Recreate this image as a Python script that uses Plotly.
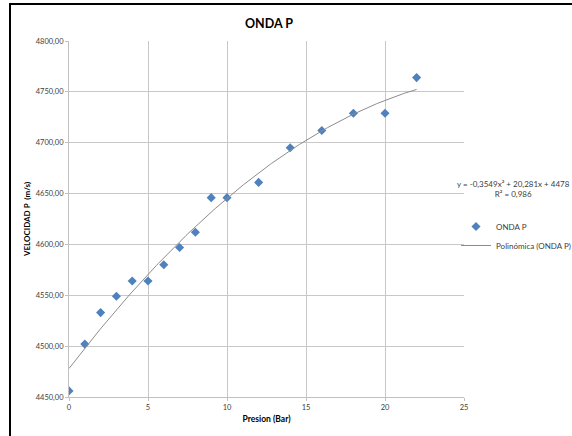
import plotly.graph_objects as go
import numpy as np

# Data
presion = [0, 1, 2, 3, 4, 5, 6, 7, 8, 9, 10, 12, 14, 16, 18, 20, 22]
velocidad = [4456, 4502, 4533, 4549, 4564, 4564, 4580, 4597, 4612, 4646, 4646,
             4661, 4695, 4712, 4729, 4729, 4764]
# Trendline coefficients as shown on the chart (a x^2 + b x + c)
trend_coeffs = [-0.3549, 20.281, 4478]
x_ticks = [0, 5, 10, 15, 20, 25]
y_ticks = [4450, 4500, 4550, 4600, 4650, 4700, 4750, 4800]

FONT = "Lato"
W, H = 572, 436
ml, mr, mt, mb = 69, 108, 41, 39
pw, ph = W - ml - mr, H - mt - mb

def px(x):
    return (x - ml) / pw

def py(y):
    return (H - mb - y) / ph

xs = np.linspace(min(presion), max(presion), 200)
ys = np.polyval(trend_coeffs, xs)

fig = go.Figure()
fig.add_trace(go.Scatter(
    x=presion, y=velocidad, mode="markers", name="ONDA P",
    marker=dict(symbol="diamond", size=7, color="#4F81BD",
                line=dict(width=0)),
))
fig.add_trace(go.Scatter(
    x=xs, y=ys, mode="lines", name="Polinómica (ONDA P)",
    line=dict(color="#8c8c8c", width=1),
))

eq_text = ("y = -0,3549x² + 20,281x + 4478<br>R² = 0,986")

fig.update_layout(
    width=W, height=H,
    margin=dict(l=ml, r=mr, t=mt, b=mb, autoexpand=False),
    paper_bgcolor="white", plot_bgcolor="white",
    separators=",.",
    font=dict(family=FONT, size=8, color="#404040"),
    title=dict(text="<b>ONDA P</b>", x=269 / W, xref="container", xanchor="center",
               y=1 - 24 / H, yref="container", yanchor="middle",
               font=dict(family=FONT, size=12.5, color="#000000")),
    xaxis=dict(range=[0, 25], tickvals=x_ticks, showgrid=True,
               gridcolor="#c8c8c8", gridwidth=1, zeroline=False,
               showline=True, linecolor="#c0c0c0", linewidth=1,
               ticks="outside", ticklen=3, tickcolor="#c0c0c0",
               tickfont=dict(family=FONT, size=7.5, color="#404040"),
               title=dict(text="<b>Presion (Bar)</b>", standoff=5,
                          font=dict(family=FONT, size=8.5, color="#000000"))),
    yaxis=dict(range=[4450, 4800], tickvals=y_ticks, tickformat=".2f",
               showgrid=True, gridcolor="#c8c8c8", gridwidth=1, zeroline=False,
               showline=True, linecolor="#c0c0c0", linewidth=1,
               ticks="outside", ticklen=3, tickcolor="#c0c0c0",
               tickfont=dict(family=FONT, size=7.5, color="#404040"),
               title=dict(text="<b>VELOCIDAD P  (m/s)</b>", standoff=3,
                          font=dict(family=FONT, size=8, color="#000000"))),
    legend=dict(x=456 / W, y=1 - 212 / H, xref="container", yref="container",
                xanchor="left", yanchor="top",
                bgcolor="rgba(0,0,0,0)", borderwidth=0,
                font=dict(family=FONT, size=8, color="#404040"),
                tracegroupgap=4),
    showlegend=True,
)

fig.add_annotation(
    text=eq_text, xref="paper", yref="paper", x=px(513), y=py(189),
    xanchor="center", yanchor="middle", showarrow=False, align="center",
    font=dict(family=FONT, size=8, color="#404040"),
)

# outer chart border
fig.add_shape(type="rect", xref="paper", yref="paper",
              x0=px(10), x1=px(600), y0=py(460), y1=py(4),
              line=dict(color="#000000", width=2), fillcolor="rgba(0,0,0,0)",
              layer="above")

fig.write_html("out.html")
